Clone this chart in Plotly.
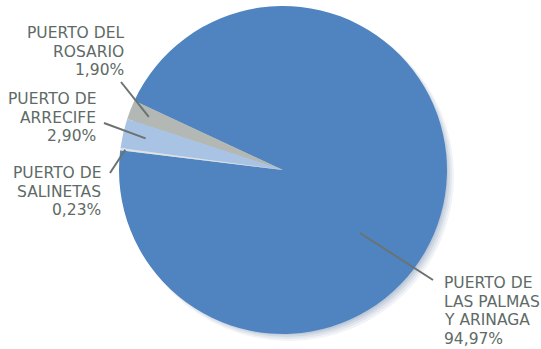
import math
import plotly.graph_objects as go

# ---- data ----
labels = ["PUERTO DE LAS PALMAS Y ARINAGA", "PUERTO DEL ROSARIO", "PUERTO DE ARRECIFE", "PUERTO DE SALINETAS"]
label_lines = [["PUERTO DE", "LAS PALMAS", "Y ARINAGA"], ["PUERTO DEL", "ROSARIO"], ["PUERTO DE", "ARRECIFE"], ["PUERTO DE", "SALINETAS"]]
values = [94.97, 1.90, 2.90, 0.23]
colors = ["#4F84C1", "#B3B8B4", "#A8C3E4", "#DCE2E5"]

W, H = 541, 349
cx, cy, R = 283, 170, 164
ROT = -65  # degrees, clockwise from 12 o'clock

def px(x):
    return x / W

def py(y):
    return 1 - y / H

fig = go.Figure()
fig.add_trace(go.Pie(
    labels=labels, values=values, sort=False, direction="counterclockwise",
    rotation=ROT, marker=dict(colors=colors, line=dict(width=0)),
    textinfo="none", hoverinfo="label+percent", showlegend=False,
    domain=dict(x=[px(cx - R), px(cx + R)], y=[py(cy + R), py(cy - R)]),
))

# shadow (soft, lower right)
shapes = []
for off, dr, col in [((6, 6), 1, "#f1f3f6"), ((5, 5), 0, "#e2e7ee"), ((4, 4), -1, "#d0d8e3"), ((3, 3), -2, "#bfc9d8")]:
    ox, oy = off
    r = R + dr
    shapes.append(dict(type="circle", xref="paper", yref="paper", layer="below",
                       x0=px(cx + ox - r), x1=px(cx + ox + r),
                       y0=py(cy + oy + r), y1=py(cy + oy - r),
                       fillcolor=col, line=dict(width=0)))

# mid-angles of slices (clockwise from 12 o'clock), counterclockwise layout
total = sum(values)
mids = []
a0 = values[0] / total * 360
mids.append(ROT + a0 / 2)
cur = ROT
for v in values[1:]:
    a = v / total * 360
    mids.append(cur - a / 2)
    cur -= a

def pt(ang, frac):
    t = math.radians(ang)
    return cx + R * frac * math.sin(t), cy - R * frac * math.cos(t)

line_col = "#6B7370"
inner = [(360, 233), pt(mids[1], 0.88), pt(mids[2], 0.86), pt(mids[3], 0.97)]
outer = [(433, 280), (121, 82), (104, 123), (110, 173)]
for i in range(4):
    x0, y0 = inner[i]
    x1, y1 = outer[i]
    shapes.append(dict(type="line", xref="paper", yref="paper",
                       x0=px(x0), y0=py(y0), x1=px(x1), y1=py(y1),
                       line=dict(color=line_col, width=2)))

txt_col = "#5E6A66"
font = dict(family="DejaVu Sans", size=15.5, color=txt_col)
pct = [f"{v:.2f}".replace(".", ",") + "%" for v in values]
anns = []
# (x, y of first line center, anchor)
pos = [(442, 283, "left"), (126, 33, "right"), (98, 99, "right"), (103, 173, "right")]
LH = 18.5
for i in range(4):
    x, y, anc = pos[i]
    for j, s in enumerate(label_lines[i] + [pct[i]]):
        anns.append(dict(xref="paper", yref="paper", x=px(x), y=py(y + j * LH),
                         xanchor=anc, yanchor="middle", align=anc, showarrow=False,
                         text=s, font=font))

fig.update_layout(width=W, height=H, margin=dict(l=0, r=0, t=0, b=0),
                  paper_bgcolor="white", plot_bgcolor="white",
                  shapes=shapes, annotations=anns)
fig.write_html("out.html", config={"displayModeBar": False},
               post_script="document.body.style.margin='0';document.body.style.padding='0';")
